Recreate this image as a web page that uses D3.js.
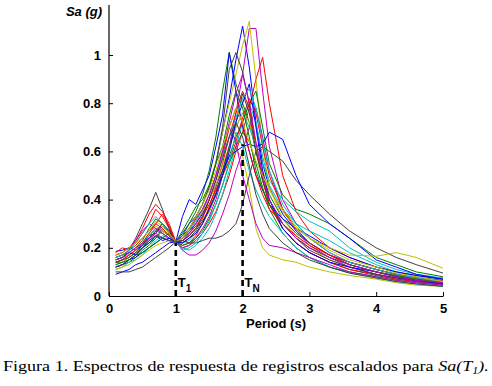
<!DOCTYPE html>
<html>
<head>
<meta charset="utf-8">
<script src="https://cdn.jsdelivr.net/npm/d3@7"></script>
<style>
  body { margin: 0; background: #fff; }
  svg { display: block; }
</style>
</head>
<body>
<script>
var width = 492,
    height = 386;

// periods (s) shared by every record
var periods = [0.1,0.2,0.3,0.4,0.5,0.6,0.7,0.8,0.9,1.0,1.1,1.2,1.3,1.4,1.5,1.6,1.7,1.8,1.9,2.0,2.1,2.2,2.3,2.4,2.6,2.8,3.0,3.3,3.6,4.0,4.3,4.6,5.0];

// Sa (g) of each scaled record
var recB1 = [0.09,0.10,0.11,0.13,0.14,0.16,0.18,0.20,0.22,0.225,0.26,0.30,0.33,0.38,0.45,0.55,0.68,0.82,0.98,1.12,0.95,0.72,0.55,0.45,0.34,0.27,0.22,0.17,0.14,0.11,0.09,0.075,0.06];
var recG1 = [0.14,0.14,0.16,0.18,0.20,0.24,0.27,0.26,0.24,0.225,0.25,0.30,0.35,0.42,0.52,0.66,0.85,1.01,0.88,0.80,0.72,0.60,0.50,0.42,0.32,0.26,0.22,0.17,0.13,0.10,0.08,0.065,0.05];
var recR1 = [0.17,0.18,0.20,0.22,0.26,0.30,0.36,0.33,0.28,0.225,0.20,0.21,0.23,0.26,0.30,0.35,0.42,0.50,0.60,0.68,0.78,0.90,0.99,0.80,0.50,0.35,0.27,0.20,0.16,0.12,0.10,0.085,0.07];
var recC1 = [0.13,0.14,0.16,0.18,0.20,0.22,0.24,0.27,0.25,0.225,0.20,0.19,0.21,0.24,0.28,0.34,0.42,0.52,0.62,0.72,0.80,0.72,0.58,0.46,0.36,0.30,0.27,0.23,0.18,0.13,0.10,0.08,0.065];
var recM1 = [0.14,0.15,0.17,0.19,0.22,0.25,0.28,0.27,0.25,0.225,0.20,0.21,0.24,0.28,0.33,0.40,0.50,0.62,0.76,0.92,1.11,1.11,0.85,0.62,0.40,0.30,0.24,0.18,0.14,0.11,0.09,0.075,0.06];
var recY1 = [0.13,0.14,0.16,0.18,0.20,0.22,0.25,0.24,0.23,0.225,0.24,0.27,0.32,0.38,0.46,0.56,0.68,0.80,0.92,1.04,1.14,0.90,0.62,0.45,0.32,0.25,0.20,0.15,0.12,0.09,0.075,0.06,0.05];
var recK1 = [0.15,0.16,0.19,0.24,0.30,0.36,0.43,0.36,0.28,0.225,0.24,0.28,0.33,0.38,0.45,0.55,0.70,0.94,1.01,0.93,0.80,0.62,0.48,0.38,0.28,0.22,0.18,0.14,0.11,0.085,0.07,0.06,0.05];
var recB2 = [0.185,0.19,0.20,0.19,0.21,0.25,0.26,0.30,0.27,0.225,0.33,0.40,0.38,0.44,0.50,0.62,0.75,1.01,0.85,0.70,0.60,0.50,0.44,0.38,0.32,0.28,0.25,0.20,0.16,0.12,0.10,0.085,0.07];
var recG2 = [0.12,0.13,0.14,0.16,0.19,0.21,0.24,0.28,0.25,0.225,0.23,0.25,0.28,0.31,0.35,0.42,0.50,0.58,0.66,0.72,0.80,0.85,0.70,0.55,0.42,0.36,0.34,0.30,0.24,0.16,0.13,0.10,0.08];
var recR2 = [0.16,0.17,0.19,0.23,0.28,0.34,0.38,0.35,0.30,0.225,0.21,0.22,0.25,0.30,0.37,0.45,0.55,0.66,0.76,0.85,0.78,0.62,0.48,0.38,0.28,0.22,0.18,0.14,0.11,0.09,0.07,0.06,0.05];
var recC2 = [0.15,0.16,0.17,0.19,0.22,0.25,0.28,0.26,0.24,0.225,0.22,0.23,0.26,0.30,0.35,0.42,0.52,0.62,0.70,0.76,0.70,0.62,0.55,0.48,0.40,0.35,0.31,0.27,0.20,0.14,0.11,0.09,0.075];
var recM2 = [0.12,0.13,0.15,0.17,0.20,0.23,0.26,0.24,0.23,0.225,0.19,0.17,0.17,0.19,0.22,0.27,0.34,0.42,0.52,0.60,0.70,0.78,0.66,0.52,0.36,0.27,0.21,0.16,0.12,0.09,0.075,0.06,0.05];
var recY2 = [0.15,0.16,0.17,0.19,0.22,0.26,0.29,0.27,0.25,0.225,0.22,0.24,0.26,0.30,0.35,0.42,0.50,0.56,0.60,0.58,0.45,0.28,0.20,0.17,0.15,0.14,0.12,0.10,0.085,0.07,0.055,0.045,0.04];
var recK2 = [0.10,0.10,0.10,0.11,0.12,0.14,0.16,0.18,0.20,0.225,0.23,0.22,0.22,0.23,0.24,0.24,0.25,0.27,0.30,0.38,0.50,0.60,0.62,0.60,0.56,0.48,0.42,0.34,0.27,0.20,0.16,0.13,0.095];
var recB3 = [0.12,0.13,0.15,0.16,0.18,0.20,0.22,0.24,0.23,0.225,0.24,0.27,0.30,0.34,0.40,0.46,0.52,0.58,0.60,0.62,0.63,0.62,0.63,0.68,0.65,0.50,0.38,0.30,0.24,0.15,0.12,0.09,0.07];
var recG3 = [0.16,0.17,0.18,0.20,0.23,0.28,0.32,0.30,0.26,0.225,0.21,0.22,0.24,0.27,0.32,0.38,0.46,0.55,0.62,0.68,0.64,0.55,0.45,0.36,0.26,0.20,0.16,0.12,0.10,0.08,0.065,0.055,0.045];
var recR3 = [0.14,0.15,0.17,0.19,0.22,0.26,0.30,0.34,0.29,0.225,0.24,0.26,0.29,0.33,0.38,0.44,0.50,0.56,0.64,0.74,0.82,0.76,0.62,0.50,0.36,0.28,0.22,0.17,0.13,0.10,0.085,0.07,0.06];
var recC3 = [0.11,0.12,0.14,0.15,0.17,0.20,0.23,0.25,0.24,0.225,0.19,0.20,0.22,0.26,0.31,0.38,0.46,0.55,0.68,0.62,0.52,0.44,0.38,0.33,0.26,0.20,0.16,0.12,0.095,0.075,0.06,0.05,0.04];
var recM3 = [0.17,0.18,0.20,0.23,0.27,0.30,0.28,0.26,0.24,0.225,0.23,0.26,0.30,0.35,0.42,0.50,0.60,0.70,0.64,0.50,0.40,0.30,0.24,0.21,0.20,0.18,0.16,0.13,0.10,0.08,0.065,0.055,0.045];
var recY3 = [0.11,0.12,0.13,0.15,0.17,0.19,0.21,0.22,0.23,0.225,0.25,0.28,0.31,0.35,0.40,0.46,0.54,0.62,0.70,0.76,0.72,0.62,0.52,0.44,0.35,0.28,0.24,0.20,0.17,0.165,0.18,0.16,0.115];
var recK3 = [0.14,0.15,0.16,0.18,0.21,0.24,0.27,0.30,0.27,0.225,0.22,0.24,0.27,0.31,0.36,0.43,0.52,0.62,0.72,0.84,0.76,0.60,0.48,0.40,0.30,0.24,0.19,0.15,0.12,0.09,0.075,0.065,0.055];
var recB4 = [0.15,0.16,0.18,0.17,0.20,0.22,0.25,0.23,0.24,0.225,0.22,0.24,0.26,0.30,0.36,0.42,0.50,0.60,0.72,0.80,0.88,0.70,0.52,0.40,0.28,0.22,0.18,0.14,0.12,0.10,0.08,0.065,0.05];
var recG4 = [0.13,0.14,0.15,0.17,0.18,0.20,0.22,0.24,0.26,0.225,0.27,0.32,0.37,0.40,0.46,0.55,0.62,0.75,0.85,0.78,0.66,0.52,0.44,0.38,0.30,0.24,0.20,0.16,0.13,0.10,0.085,0.07,0.055];
var recR4 = [0.18,0.20,0.19,0.21,0.24,0.27,0.30,0.28,0.25,0.225,0.23,0.25,0.28,0.32,0.40,0.48,0.58,0.70,0.78,0.72,0.60,0.50,0.42,0.36,0.30,0.25,0.21,0.17,0.14,0.11,0.09,0.075,0.065];
var recC4 = [0.16,0.17,0.19,0.22,0.26,0.30,0.33,0.30,0.26,0.225,0.24,0.27,0.31,0.36,0.42,0.50,0.58,0.66,0.74,0.82,0.86,0.78,0.64,0.52,0.38,0.30,0.24,0.18,0.14,0.11,0.09,0.075,0.06];
var recM4 = [0.15,0.16,0.18,0.20,0.22,0.24,0.26,0.29,0.26,0.225,0.25,0.28,0.32,0.36,0.42,0.50,0.60,0.72,0.84,0.92,0.80,0.64,0.50,0.40,0.30,0.24,0.20,0.16,0.13,0.10,0.08,0.065,0.055];
var recY4 = [0.17,0.18,0.20,0.22,0.24,0.27,0.31,0.29,0.26,0.225,0.24,0.28,0.33,0.38,0.44,0.52,0.62,0.70,0.78,0.72,0.64,0.56,0.50,0.44,0.36,0.29,0.24,0.19,0.15,0.12,0.095,0.08,0.06];
var recK4 = [0.12,0.13,0.15,0.17,0.20,0.23,0.25,0.24,0.23,0.225,0.23,0.25,0.28,0.33,0.40,0.48,0.57,0.66,0.72,0.66,0.54,0.42,0.34,0.28,0.22,0.18,0.15,0.12,0.095,0.075,0.06,0.05,0.04];

var records = [recB1,recG1,recR1,recC1,recM1,recY1,recK1,
               recB2,recG2,recR2,recC2,recM2,recY2,recK2,
               recB3,recG3,recR3,recC3,recM3,recY3,recK3,
               recB4,recG4,recR4,recC4,recM4,recY4,recK4];

// matlab default line colours (b g r c m y k)
var lineColors = ["#0000ff","#008000","#ff0000","#00bfbf","#bf00bf","#bfbf00","#404040"];

var xTicks = [0,1,2,3,4,5];
var yTicks = [0,0.2,0.4,0.6,0.8,1];

// dashed markers: T1 and TN with Sa at the top of each dash
var markT = [1, 2];
var markSa = [0.22, 0.63];
var markLabel = ["1", "N"];

var svg = d3.select("body").append("svg")
    .attr("width", width)
    .attr("height", height)
    .style("background", "#fff");

var x = d3.scaleLinear().domain([0, 5]).range([109, 443]);
var y = d3.scaleLinear().domain([0, 1.2]).range([296, 6.8]);

var line = d3.line()
    .x(function(d, i) { return x(periods[i]); })
    .y(function(d) { return y(d); });

// spectra
svg.append("g")
  .selectAll("path")
  .data(records)
  .enter().append("path")
  .attr("d", line)
  .attr("fill", "none")
  .attr("stroke", function(d, i) { return lineColors[i % 7]; })
  .attr("stroke-width", 1);

// dashed period markers
svg.append("g")
  .selectAll("line")
  .data(markT)
  .enter().append("line")
  .attr("x1", function(d) { return x(d); })
  .attr("x2", function(d) { return x(d); })
  .attr("y1", y(0))
  .attr("y2", function(d, i) { return y(markSa[i]); })
  .attr("stroke", "#000")
  .attr("stroke-width", 2.6)
  .attr("stroke-dasharray", "6,4");

var lab = svg.append("g")
  .selectAll("text")
  .data(markT)
  .enter().append("text")
  .attr("x", function(d) { return x(d) + 2; })
  .attr("y", 287)
  .style("font-family", "Arial, 'Liberation Sans', sans-serif")
  .style("font-weight", "bold")
  .style("font-size", "13px");
lab.append("tspan").text("T");
lab.append("tspan")
  .attr("dy", 5)
  .style("font-size", "10px")
  .text(function(d, i) { return markLabel[i]; });

// axes (ticks point inward, like matlab)
var xAxis = d3.axisBottom(x).tickValues(xTicks).tickSize(-4).tickPadding(8).tickSizeOuter(0)
    .tickFormat(d3.format("d"));
var yAxis = d3.axisLeft(y).tickValues(yTicks).tickSize(-4).tickPadding(8).tickSizeOuter(0)
    .tickFormat(function(d) { return d; });

var gx = svg.append("g")
  .attr("transform", "translate(0," + y(0) + ")")
  .call(xAxis);
var gy = svg.append("g")
  .attr("transform", "translate(" + x(0) + ",0)")
  .call(yAxis);

[gx, gy].forEach(function(g) {
  g.select(".domain").attr("stroke", "#000").attr("stroke-width", 1.2);
  g.selectAll(".tick line").attr("stroke", "#000");
  g.selectAll(".tick text")
    .attr("fill", "#000")
    .style("font-family", "Arial, 'Liberation Sans', sans-serif")
    .style("font-weight", "bold")
    .style("font-size", "13px");
});
gy.select(".domain").attr("d", "M0," + y(0) + "V5");

svg.append("text")
  .attr("x", 84)
  .attr("y", 16)
  .attr("text-anchor", "middle")
  .style("font-family", "Arial, 'Liberation Sans', sans-serif")
  .style("font-weight", "bold")
  .style("font-style", "italic")
  .style("font-size", "13px")
  .text("Sa (g)");

svg.append("text")
  .attr("x", 276)
  .attr("y", 328)
  .attr("text-anchor", "middle")
  .style("font-family", "Arial, 'Liberation Sans', sans-serif")
  .style("font-weight", "bold")
  .style("font-size", "13px")
  .text("Period (s)");

// caption, stretched to the page width like the scanned figure
var cap = svg.append("text")
  .attr("x", 0)
  .attr("y", 0)
  .style("font-family", "'Times New Roman', 'Liberation Serif', serif")
  .style("font-size", "15px")
  .attr("fill", "#000");
cap.append("tspan").text("Figura 1. Espectros de respuesta de registros escalados para ");
cap.append("tspan").style("font-style", "italic").text("Sa(T");
cap.append("tspan").style("font-style", "italic").style("font-size", "10px").attr("dy", 3).text("1");
cap.append("tspan").style("font-style", "italic").attr("dy", -3).text(").");
var capW = cap.node().getComputedTextLength();
cap.attr("transform", "translate(3,371) scale(" + (486 / capW) + ",1)");
</script>
</body>
</html>
